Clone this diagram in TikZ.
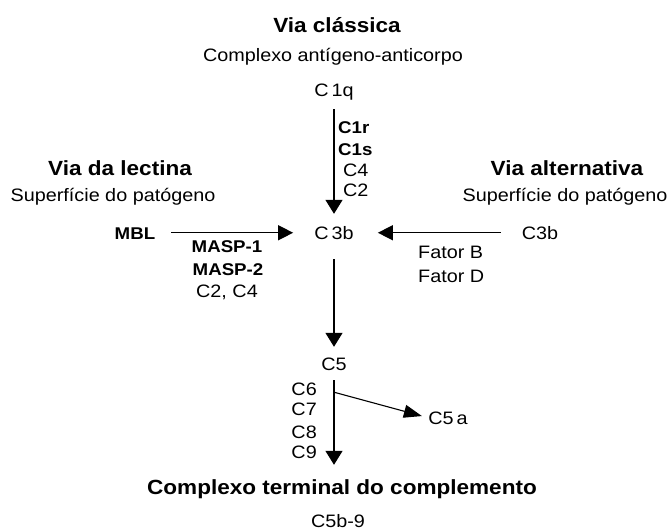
\documentclass[tikz,border=0pt]{standalone}
\usepackage{fontspec}
\setmainfont[FakeStretch=1.1]{Liberation Sans}
\usetikzlibrary{arrows.meta}

\tikzset{
  lbl/.style={inner sep=0pt, anchor=base, text height=12.5pt, text depth=0pt,
              font=\fontsize{18}{20}\selectfont},
  blbl/.style={lbl, font=\fontsize{17}{20}\selectfont\bfseries},
  ttl/.style={inner sep=0pt, anchor=base, text height=15pt, text depth=0pt,
              font=\fontsize{20.5}{24}\selectfont\bfseries},
  arr/.style={line width=1.4pt, -{Triangle[length=14pt,width=17pt]}},
  harr/.style={line width=1.4pt, -{Triangle[length=15pt,width=15pt]}},
  darr/.style={line width=1.1pt, -{Triangle[length=18pt,width=13pt]}},
}

\begin{document}
\begin{tikzpicture}[x=1pt, y=-1pt]
\useasboundingbox (0,0) rectangle (670,531);

% classical pathway
\node[ttl] (tclass) at (337,32) {Via clássica};
\node[lbl] (ag) at (333,61) {Complexo antígeno-anticorpo};
\node[lbl] (c1q) at (334,96) {C\,1q};
\node[blbl, anchor=base west] (c1r) at (338,133) {C1r};
\node[blbl, anchor=base west] (c1s) at (338,155) {C1s};
\node[lbl, anchor=base west] (c4) at (343,176) {C4};
\node[lbl, anchor=base west] (c2) at (343,196) {C2};

% central C3b
\node[lbl] (c3b) at (334,239) {C\,3b};

% lectin pathway
\node[ttl] (tlec) at (120,175) {Via da lectina};
\node[lbl] (suplec) at (113,201) {Superfície do patógeno};
\node[blbl] (mbl) at (135,239) {MBL};
\node[blbl] (masp1) at (227,252) {MASP-1};
\node[blbl] (masp2) at (228,275) {MASP-2};
\node[lbl] (c2c4) at (227,297) {C2, C4};

% alternative pathway
\node[ttl] (talt) at (567,175) {Via alternativa};
\node[lbl] (supalt) at (565,201) {Superfície do patógeno};
\node[lbl] (c3br) at (540,239) {C3b};
\node[lbl, anchor=base west] (fatb) at (418,258) {Fator B};
\node[lbl, anchor=base west] (fatd) at (418,282) {Fator D};

% terminal pathway
\node[lbl] (c5) at (334,370) {C5};
\node[lbl, anchor=base east] (c6) at (317,395) {C6};
\node[lbl, anchor=base east] (c7) at (317,415) {C7};
\node[lbl, anchor=base east] (c8) at (317,438) {C8};
\node[lbl, anchor=base east] (c9) at (317,458) {C9};
\node[lbl] (c5a) at (448,424) {C5\,a};
\node[ttl] (term) at (342,494) {Complexo terminal do complemento};
\node[lbl] (c5b9) at (338,527) {C5b-9};

% connectors
\draw[arr, shorten <=13pt, shorten >=12.5pt] (c1q.south) -- (c3b.north);
\draw[harr, shorten <=16pt, shorten >=21pt] (mbl.east) -- (c3b.west);
\draw[harr, shorten <=21pt, shorten >=24pt] (c3br.west) -- (c3b.east);
\draw[arr, shorten <=20pt, shorten >=10.5pt] (c3b.south) -- (c5.north);
\draw[arr, shorten <=10pt, shorten >=14pt] (c5.south) -- (c5.south |- term.north);
\coordinate (split) at ([yshift=-22pt]c5.south);
\draw[darr, shorten >=6.5pt] (split) -- (c5a.west);
\end{tikzpicture}
\end{document}
